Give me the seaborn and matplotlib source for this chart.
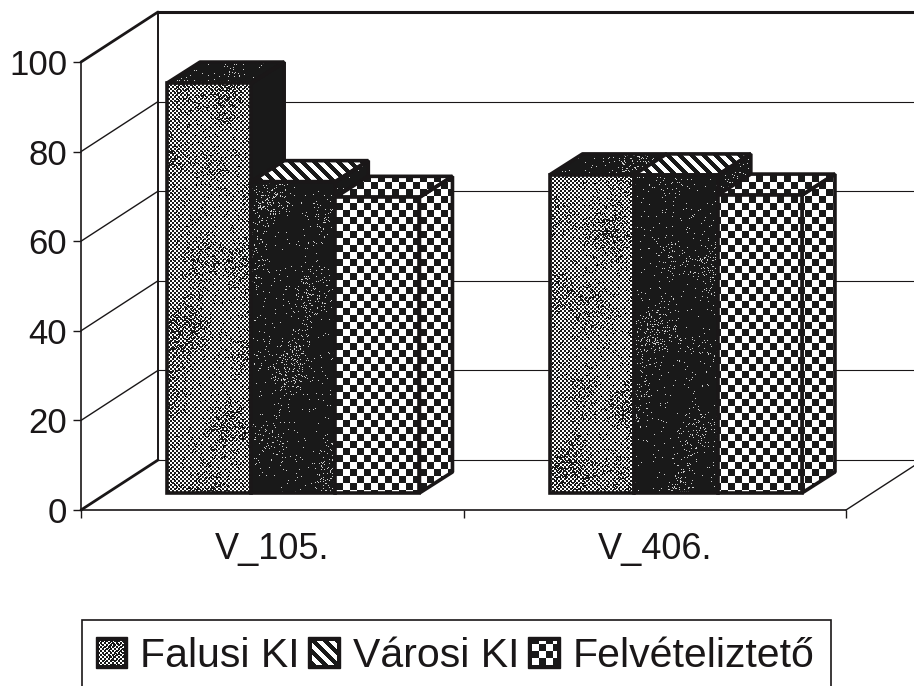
import numpy as np
import pandas as pd
import seaborn as sns
import matplotlib.pyplot as plt
from matplotlib.image import FigureImage
from matplotlib.patches import Polygon, Patch, Rectangle
from matplotlib.path import Path
from matplotlib.transforms import IdentityTransform

# %% data
categories = ["V_105.", "V_406."]
series_names = ["Falusi KI", "Városi KI", "Felvételiztető"]
falusi = [91.5, 71]
varosi = [69.5, 71]
felvetel = [66, 66.5]
y_ticks = [0, 20, 40, 60, 80, 100]

W, H = 914, 686
INK = "#1a1718"
sns.set_theme(style="white")
plt.rcParams["font.family"] = ["Liberation Sans", "DejaVu Sans"]

df = pd.DataFrame({
    "cat": categories * 3,
    "series": np.repeat(series_names, 2),
    "val": falusi + varosi + felvetel,
})

# %% textures, same size as the canvas (scanned halftone look)
yy, xx = np.mgrid[0:H, 0:W]
grain = np.modf(np.abs(np.sin(xx * 12.9898 + yy * 78.233)) * 43758.5453)[0]
blotch = (np.sin(xx / 19 + yy / 31) + np.sin(yy / 13 - xx / 37) + np.sin(xx / 9.3 + yy / 47)) / 3
cells = ((xx // 2 + yy // 2) % 2) == 0
black = 0.1

tex_gray = np.where(cells & (grain > 0.04 + 0.3 * np.clip(blotch + 0.1, 0, 1)), 1.0, black)
tex_dark = np.where(grain < 0.015 + 0.14 * np.clip(blotch, 0, 1), 0.8, black)
tex_black = np.full((H, W), black)
tex_stripe = np.where(((xx - yy) % 12) < 6, 1.0, black)
tex_check = np.where(((xx // 7) + (yy // 7)) % 2 == 0, 1.0, black)

front_tex = [tex_gray, tex_dark, tex_check]
side_tex = [tex_black, tex_dark, tex_check]
top_tex = [tex_dark, tex_stripe, tex_check]

# %% axes: ax = front frame, bar_ax = same scale moved into the floor
fig = plt.figure(figsize=(W / 100, H / 100), dpi=100, facecolor="white")
ax = fig.add_axes([81 / W, (H - 510) / H, 765 / W, 448 / H], facecolor="none")
bar_ax = fig.add_axes([(81 + 21) / W, (H - 493) / H, 765 / W, 448 / H], facecolor="none")

sns.barplot(data=df, x="cat", y="val", hue="series", hue_order=series_names,
            order=categories, ax=bar_ax, width=0.66, gap=0, legend=False, saturation=1)

for a in (ax, bar_ax):
    a.set_xlim(-0.5, 1.5)
    a.set_ylim(0, 100)
bar_ax.axis("off")

# wall depth in data units
wall_dx, wall_dy = 77 / 382.5, 50 / 4.48
bar_dx, bar_dy = 33 / 382.5, 21 / 4.48

# %% frame
x_left, x_right = -0.5, 1.5
wall = dict(color=INK, clip_on=False, zorder=1)
for v in y_ticks:
    heavy = v in (0, 100)
    ax.plot([x_left, x_left + wall_dx], [v, v + wall_dy], lw=2 if heavy else 1, **wall)
    ax.plot([x_left + wall_dx, x_right + wall_dx], [v + wall_dy, v + wall_dy],
            lw=2.2 if v == 100 else 0.8, **wall)
ax.plot([x_left + wall_dx, x_left + wall_dx], [0 + wall_dy, 100 + wall_dy], lw=1.4, **wall)
ax.plot([x_right, x_right + wall_dx], [0, wall_dy], lw=1, **wall)

for s in ("top", "right"):
    ax.spines[s].set_visible(False)
for s in ("left", "bottom"):
    ax.spines[s].set_color(INK)
    ax.spines[s].set_linewidth(1.2)

ax.set_yticks(y_ticks)
ax.set_xticks([0, 1])
ax.set_xticklabels(categories)
ax.set_xticks([-0.5, 0.5, 1.5], minor=True)
ax.tick_params(axis="y", left=True, length=6, width=1, labelsize=25, pad=4, color=INK, labelcolor=INK)
ax.tick_params(axis="x", which="major", bottom=False, labelsize=26, pad=10, labelcolor=INK)
ax.tick_params(axis="x", which="minor", bottom=True, length=6, width=1, color=INK)


def paint(target, tex, path, trans, z):
    im = FigureImage(fig, cmap="gray", origin="upper")
    im.set_data(tex)
    im.set_clim(0, 1)
    im.set_zorder(z)
    im.set_transform(IdentityTransform())
    target.add_artist(im)
    im.set_clip_path(path, trans)


# %% 3D bars, drawn left to right so later fronts cover earlier sides
bars = []
for s, cont in enumerate(bar_ax.containers):
    for b in cont:
        bars.append((b.get_x(), s, b))
bars.sort(key=lambda t: t[0])

for i, (_, s, b) in enumerate(bars):
    z = 3 + i
    x0, x1, y = b.get_x(), b.get_x() + b.get_width(), b.get_height()
    side = [(x1, 0), (x1 + bar_dx, bar_dy), (x1 + bar_dx, y + bar_dy), (x1, y)]
    top = [(x0, y), (x0 + bar_dx, y + bar_dy), (x1 + bar_dx, y + bar_dy), (x1, y)]
    for verts, tex in ((side, side_tex[s]), (top, top_tex[s])):
        paint(bar_ax, tex, Path(verts + verts[:1]), bar_ax.transData, z)
        bar_ax.add_patch(Polygon(verts, closed=True, facecolor="none", edgecolor=INK,
                                 lw=2.6, clip_on=False, zorder=z + 0.2, joinstyle="bevel"))
    paint(bar_ax, front_tex[s], b.get_path(), b.get_transform(), z + 0.4)
    b.set_facecolor("none")
    b.set_edgecolor(INK)
    b.set_linewidth(2.6)
    b.set_clip_on(False)
    b.set_zorder(z + 0.5)

# %% legend, the box runs off the bottom of the scan so it gets its own frame
handles = [Patch(facecolor=INK, edgecolor=INK, label=n) for n in series_names]
leg = ax.legend(handles=handles, ncols=3, fontsize=29.5, frameon=False,
                loc="center left", bbox_to_anchor=(82 / W, (H - 656) / H), bbox_transform=fig.transFigure,
                borderaxespad=0, handlelength=0.78, handleheight=0.78, handletextpad=0.3,
                columnspacing=0.22, borderpad=0.33, labelcolor=INK)
fig.add_artist(Rectangle((82 / W, -10 / H), 749 / W, (H + 10 - 620) / H, transform=fig.transFigure,
                         fill=False, edgecolor=INK, lw=1.2))

fig.canvas.draw()
for h, tex in zip(leg.get_patches(), [tex_gray, tex_stripe, tex_check]):
    bb = h.get_window_extent().expanded(0.78, 0.78)
    im = fig.figimage(tex, cmap="gray", vmin=0, vmax=1, origin="upper", zorder=10)
    verts = [(bb.x0, bb.y0), (bb.x1, bb.y0), (bb.x1, bb.y1), (bb.x0, bb.y1), (bb.x0, bb.y0)]
    im.set_clip_path(Path(verts), IdentityTransform())

fig.savefig("out.png", dpi=100)
